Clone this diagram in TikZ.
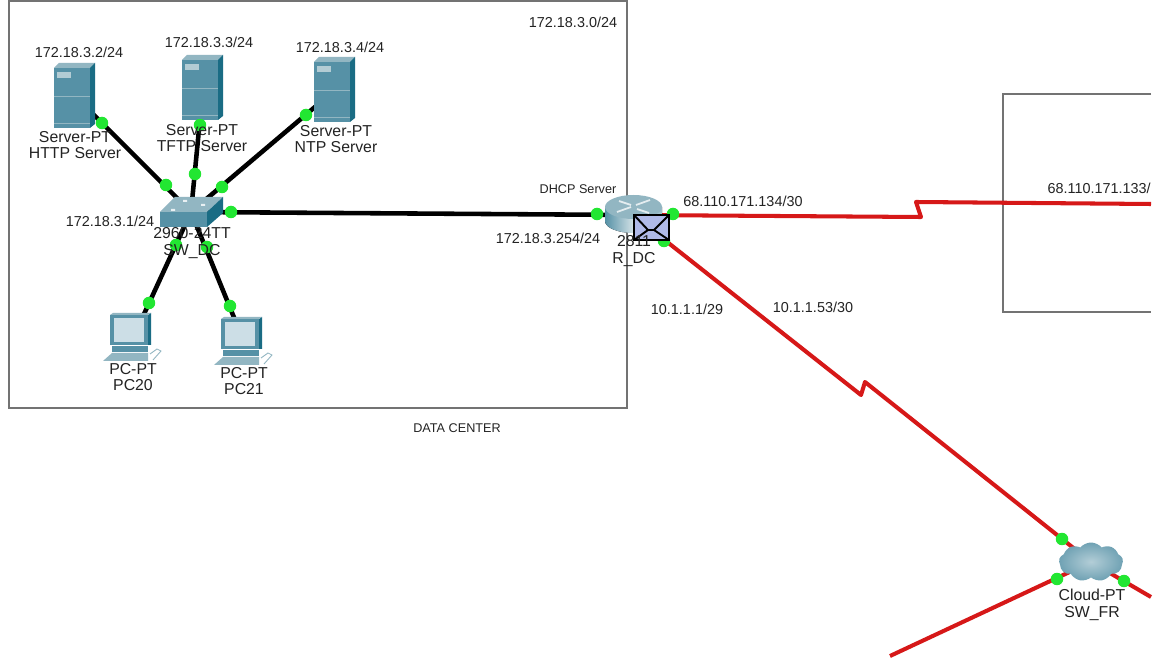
\documentclass[tikz,border=0pt]{standalone}
\usepackage{fontspec}
\setmainfont{Liberation Sans}
\usepackage{xcolor}
\usetikzlibrary{shapes.symbols}
\definecolor{colWire}{RGB}{214,24,24}
\definecolor{colPort}{RGB}{34,230,50}
\definecolor{colFront}{RGB}{86,145,166}
\definecolor{colTop}{RGB}{146,182,194}
\definecolor{colSide}{RGB}{26,108,132}
\definecolor{colScreen}{RGB}{204,222,230}
\definecolor{colText}{RGB}{35,35,35}
\definecolor{colFrame}{RGB}{115,115,115}
\definecolor{colMail}{RGB}{176,186,232}

\tikzset{
  serverpic/.pic={
    \fill[colFront] (-21,-28) rectangle (15,32);
    \fill[colTop] (-21,-28) -- (-16,-33) -- (20,-33) -- (15,-28) -- cycle;
    \fill[colSide] (15,-28) -- (20,-33) -- (20,28) -- (15,32) -- cycle;
    \fill[colTop!70!white] (-18,-24) rectangle (-4,-18);
    \draw[colTop,line width=.3pt] (-21,0) -- (15,0);
    \draw[colTop,line width=.3pt] (-21,27) -- (15,27);
  },
  switchpic/.pic={
    \fill[colFront] (-31,0) rectangle (16,15);
    \fill[colTop] (-31,0) -- (-16,-15) -- (32,-15) -- (16,0) -- cycle;
    \fill[colSide] (16,0) -- (32,-15) -- (32,1) -- (16,15) -- cycle;
    \fill[white!80!colTop] (-20,-3) rectangle (-16,-1) (-8,-12) rectangle (-4,-10) (10,-8) rectangle (14,-6);
  },
  pcpic/.pic={
    \fill[colSide] (15,-23) -- (18,-25) -- (18,7) -- (15,7) -- cycle;
    \fill[colFront] (-23,-23) rectangle (15,7);
    \fill[colTop] (-23,-23) -- (-20,-25) -- (18,-25) -- (15,-23) -- cycle;
    \fill[colScreen] (-19,-20) rectangle (11,4);
    \fill[colFront] (-21,8) rectangle (15,14);
    \fill[colTop] (-30,23) -- (-21,15) -- (15,15) -- (15,23) -- cycle;
    \draw[colTop,line width=.5pt] (17,16) -- (24,11) -- (28,13) -- (20,22);
  },
  routerpic/.pic={
    \fill[left color=colFront,right color=colFront!60!white,middle color=colTop!40!white]
      (-28,-8) -- (29,-8) -- (29,6)
      arc[start angle=0,end angle=180,x radius=28.5,y radius=12] -- cycle;
    \fill[colTop] (0.5,-8) ellipse[x radius=28.5,y radius=12];
    \draw[white!75!colTop,line width=1pt] (-16,-3) -- (-2,-8) (3,-10) -- (17,-15)
      (-14,-14) -- (-2,-10) (4,-6) -- (16,-2);
  },
  cloudpic/.pic={
    \node[cloud,cloud puffs=9,cloud puff arc=100,aspect=1.6,inner sep=0,
      minimum width=1.28cm,minimum height=.78cm,inner color=colFront!45!white,
      outer color=colFront!85!white] (-cloudshape) at (0,0) {};
  },
  mailpic/.pic={
    \draw[black,fill=colMail,line width=1.3pt] (0,0) rectangle (35,25);
    \draw[black,line width=1.1pt] (0,0) -- (14,15) -- (20,15) -- (35,0)
      (0,25) -- (14,15) (20,15) -- (35,25);
  }
}

\begin{document}
\begin{tikzpicture}[
  x=0.02cm,y=-0.02cm,
  every node/.style={text=colText,align=center,inner sep=0},
  devbox/.style={minimum size=1pt},
  port/.style={circle,fill=colPort,minimum size=0.25cm},
  ipnote/.style={font=\fontsize{8.2}{9.6}\selectfont},
  devnote/.style={font=\fontsize{9}{9.6}\selectfont},
  boxnote/.style={font=\fontsize{7.2}{9}\selectfont},
  area/.style={draw=colFrame,line width=1.1pt},
  lan/.style={draw=black,line width=2.6pt},
  wan/.style={draw=colWire,line width=2.3pt,line join=round}
]
\useasboundingbox (0,0) rectangle (1161,662);
\fill[white] (0,0) rectangle (1161,662);

% areas
\draw[area] (9,1) rectangle (627,408);
\draw[area] (1151,94) -- (1003,94) -- (1003,312) -- (1151,312);

% device centres
\node[devbox] (srvHTTP) at (75,96) {};
\node[devbox] (srvTFTP) at (203,88) {};
\node[devbox] (srvNTP) at (335,90) {};
\node[devbox] (swDC) at (191,212) {};
\node[devbox] (pc20) at (133,338) {};
\node[devbox] (pc21) at (244,342) {};
\node[devbox] (rDC) at (633,215) {};
\node[devbox] (swFR) at (1091,562) {};

% free ends and zigzags
\coordinate (zigAa) at (921,217);
\coordinate (zigAb) at (916,202);
\coordinate (edgeE) at (1151,204);
\coordinate (zigBa) at (861,395);
\coordinate (zigBb) at (865,382);
\coordinate (edgeS) at (890,656);
\coordinate (edgeSE) at (1151,597);

% links
\draw[lan] (srvHTTP) -- (swDC);
\draw[lan] (srvTFTP) -- (swDC);
\draw[lan] (srvNTP) -- (swDC);
\draw[lan] (pc20) -- (swDC);
\draw[lan] (pc21) -- (swDC);
\draw[lan] (swDC) -- (rDC);
\draw[wan] (rDC) -- (zigAa) -- (zigAb) -- (edgeE);
\draw[wan] (rDC) -- (zigBa) -- (zigBb) -- (swFR);
\draw[wan] (swFR) -- (edgeS);
\draw[wan] (swFR) -- (edgeSE);

% icons
\pic at (srvHTTP) {serverpic};
\pic at (srvTFTP) {serverpic};
\pic at (srvNTP) {serverpic};
\pic at (swDC) {switchpic};
\pic at (pc20) {pcpic};
\pic at (pc21) {pcpic};
\pic at (rDC) {routerpic};
\pic (fr) at (swFR) {cloudpic};

% ports
\node[port] (p1) at (102,123) {};
\node[port] (p2) at (166,185) {};
\node[port] (p3) at (200,125) {};
\node[port] (p4) at (195,174) {};
\node[port] (p5) at (306,115) {};
\node[port] (p6) at (222,187) {};
\node[port] (p7) at (231,212) {};
\node[port] (p8) at (597,214) {};
\node[port] (p9) at (176,245) {};
\node[port] (p10) at (149,303) {};
\node[port] (p11) at (207,247) {};
\node[port] (p12) at (230,306) {};
\node[port] (p13) at (673,214) {};
\node[port] (p14) at (664,241) {};
\node[port] (p15) at (1062,539) {};
\node[port] (p16) at (1057,579) {};
\node[port] (p17) at (1124,581) {};

\pic at (634,215) {mailpic};

% device labels
\node[devnote] (lbHTTP) at (75,145) {Server-PT\\HTTP Server};
\node[devnote] (lbTFTP) at (202,138) {Server-PT\\TFTP Server};
\node[devnote] (lbNTP) at (336,139) {Server-PT\\NTP Server};
\node[devnote] (lbSW) at (192,243) {2960-24TT\\SW\_DC};
\node[devnote] (lb20) at (133,377) {PC-PT\\PC20};
\node[devnote] (lb21) at (244,381) {PC-PT\\PC21};
\node[devnote] (lbR) at (634,251) {2811\\R\_DC};
\node[devnote] (lbFR) at (1092,605) {Cloud-PT\\SW\_FR};

% addresses
\node[ipnote] (ip2) at (79,52) {172.18.3.2/24};
\node[ipnote] (ip3) at (209,42) {172.18.3.3/24};
\node[ipnote] (ip4) at (340,47) {172.18.3.4/24};
\node[ipnote] (ip0) at (573,22) {172.18.3.0/24};
\node[ipnote] (ip1) at (110,221) {172.18.3.1/24};
\node[ipnote] (ip254) at (548,238) {172.18.3.254/24};
\node[ipnote] (ipW1) at (743,201) {68.110.171.134/30};
\node[ipnote,anchor=east] (ipW2) at (1151,188) {68.110.171.133/};
\node[ipnote] (ipF1) at (687,309) {10.1.1.1/29};
\node[ipnote] (ipF2) at (813,307) {10.1.1.53/30};

% area labels
\node[boxnote] (lbDHCP) at (578,189) {DHCP Server};
\node[boxnote] (lbDC) at (457,428) {DATA CENTER};
\end{tikzpicture}
\end{document}
